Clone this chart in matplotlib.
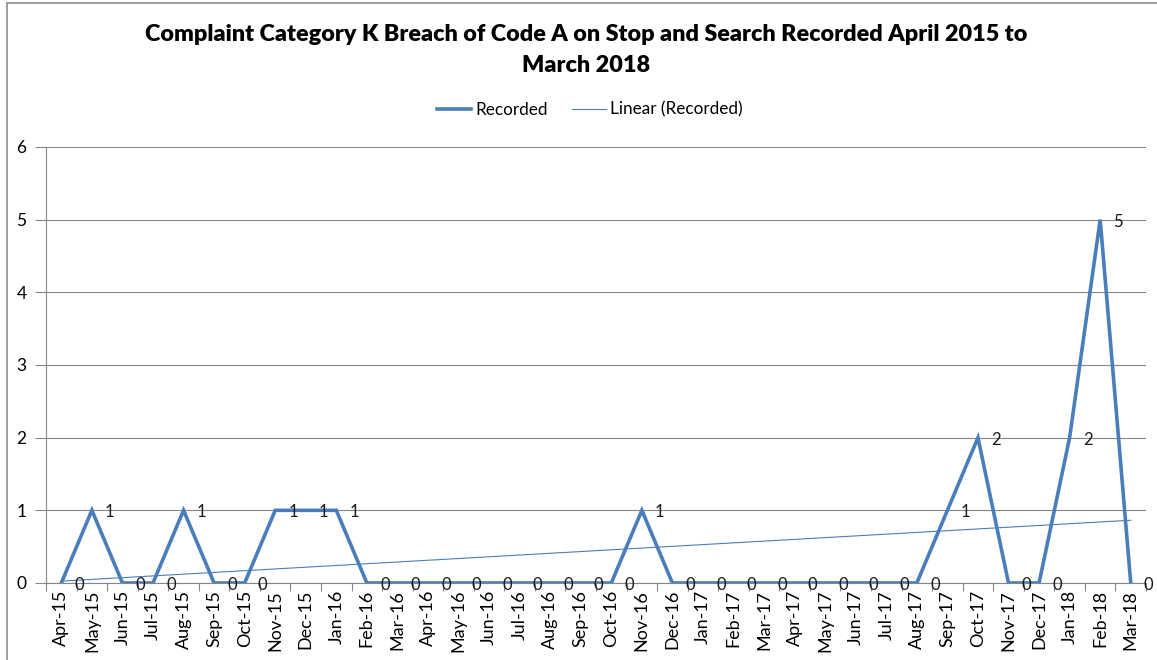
import numpy as np
import matplotlib
matplotlib.use('Agg')
import matplotlib.pyplot as plt
from matplotlib.patches import Rectangle

months = ['Apr-15', 'May-15', 'Jun-15', 'Jul-15', 'Aug-15', 'Sep-15', 'Oct-15', 'Nov-15',
          'Dec-15', 'Jan-16', 'Feb-16', 'Mar-16', 'Apr-16', 'May-16', 'Jun-16', 'Jul-16',
          'Aug-16', 'Sep-16', 'Oct-16', 'Nov-16', 'Dec-16', 'Jan-17', 'Feb-17', 'Mar-17',
          'Apr-17', 'May-17', 'Jun-17', 'Jul-17', 'Aug-17', 'Sep-17', 'Oct-17', 'Nov-17',
          'Dec-17', 'Jan-18', 'Feb-18', 'Mar-18']
recorded = [0, 1, 0, 0, 1, 0, 0, 1,
            1, 1, 0, 0, 0, 0, 0, 0,
            0, 0, 0, 1, 0, 0, 0, 0,
            0, 0, 0, 0, 0, 1, 2, 0,
            0, 2, 5, 0]
yticks = [0, 1, 2, 3, 4, 5, 6]

plt.rcParams['font.family'] = ['Lato', 'DejaVu Sans']

line_col = '#4A7EBB'
grid_col = '#868686'

fig = plt.figure(figsize=(11.57, 6.6), dpi=100)
ax = fig.add_axes([0.0398, 0.1167, 0.9507, 0.6606])

x = np.arange(len(months))
y = np.array(recorded)

# linear trend
k, b = np.polyfit(x, y, 1)
trend = k * x + b

ax.plot(x, y, color=line_col, lw=2.6, label='Recorded', zorder=3, solid_joinstyle='miter')
ax.plot(x, trend, color=line_col, lw=0.8, label='Linear (Recorded)', zorder=2)

for xi, yi in zip(x, y):
    ax.annotate(str(yi), (xi, yi), xytext=(18, -2), textcoords='offset pixels',
                ha='center', va='center', fontsize=12, color='#1a1a1a',
                annotation_clip=False, zorder=4)

ax.set_xlim(-0.5, len(months) - 0.5)
ax.set_ylim(0, 6)
ax.set_yticks(yticks)
ax.set_yticklabels([str(v) for v in yticks], fontsize=12.5)
ax.set_xticks(x)
ax.set_xticklabels(months, rotation=90, fontsize=13)
ax.set_xticks(np.arange(-0.5, len(months), 1), minor=True)
ax.tick_params(axis='x', which='major', length=0, pad=5)
ax.tick_params(axis='x', which='minor', length=6, color=grid_col, width=0.8)
ax.tick_params(axis='y', length=8, color=grid_col, width=0.8, pad=6)
ax.yaxis.grid(True, color=grid_col, lw=0.8)
ax.set_axisbelow(True)
for s in ['top', 'right']:
    ax.spines[s].set_visible(False)
for s in ['left', 'bottom']:
    ax.spines[s].set_color(grid_col)
    ax.spines[s].set_linewidth(0.8)

fig.text(0.5065, 0.947, 'Complaint Category K Breach of Code A on Stop and Search Recorded April 2015 to',
         ha='center', va='center', fontsize=16.8, fontweight='heavy')
fig.text(0.5065, 0.900, 'March 2018', ha='center', va='center', fontsize=16.8, fontweight='heavy')

fig.legend(loc='center', bbox_to_anchor=(0.5096, 0.834), ncol=2, frameon=False,
           fontsize=12.3, handlelength=2.0, handletextpad=0.25, columnspacing=1.4)

# outer chart border
fig.patches.append(Rectangle((7 / 1157, -0.1), 1.2, 1.1 - 2.5 / 660, transform=fig.transFigure,
                             fill=False, edgecolor='#8c8c8c', lw=1.2, clip_on=False))

fig.savefig('out.png', dpi=100)
